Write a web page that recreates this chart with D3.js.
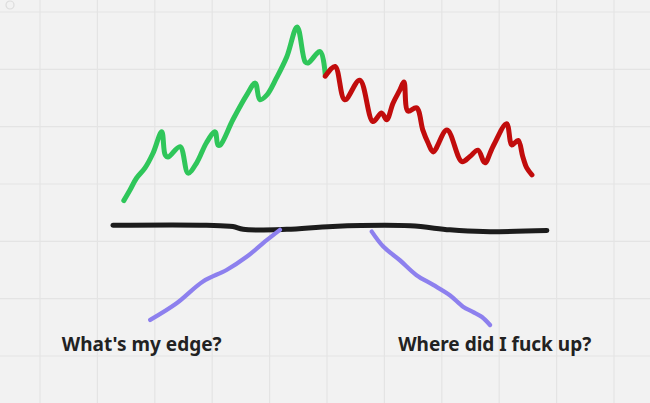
<!DOCTYPE html>
<html><head><meta charset="utf-8">
<script src="https://cdn.jsdelivr.net/npm/d3@7"></script>
<style>html,body{margin:0;padding:0;background:#f2f2f2;overflow:hidden}</style>
</head><body>
<svg id="c" width="650" height="403"></svg>
<script>
// grid units
const gridX = [-1,0,1,2,3,4,5,6,7,8,9,10,11];
const gridY = [-1,0,1,2,3,4,5,6,7];

const greenX = [1.46,1.57,1.68,1.83,1.97,2.12,2.18,2.23,2.44,2.58,2.73,2.90,3.05,3.10,3.14,3.36,3.60,3.75,3.83,3.95,4.12,4.30,4.48,4.62,4.67,4.88,4.97];
const greenY = [2.71,2.90,3.10,3.28,3.54,3.91,3.51,3.47,3.65,3.19,3.37,3.72,3.91,3.68,3.68,4.12,4.55,4.76,4.47,4.55,4.85,5.22,5.74,5.13,5.11,5.31,4.90];

const redX = [4.97,5.14,5.31,5.57,5.80,5.95,6.04,6.15,6.27,6.34,6.41,6.56,6.67,6.76,6.85,7.09,7.35,7.49,7.63,7.75,7.89,8.13,8.22,8.33,8.41,8.48,8.57];
const redY = [4.88,5.05,4.47,4.81,4.09,4.24,4.12,4.41,4.64,4.78,4.27,4.33,3.94,3.72,3.56,3.94,3.39,3.48,3.59,3.37,3.65,4.05,3.68,3.76,3.48,3.28,3.16];

const blackX = [1.27,2.90,3.36,3.54,4.30,5.10,6.45,7.14,7.72,8.83];
const blackY = [2.28,2.28,2.26,2.21,2.21,2.26,2.27,2.20,2.17,2.19];

const purpleLX = [1.92,2.38,2.84,3.25,3.60,3.95,4.18];
const purpleLY = [0.63,0.92,1.30,1.50,1.73,2.02,2.20];

const purpleRX = [5.78,5.98,6.27,6.56,6.85,7.14,7.37,7.54,7.70,7.84];
const purpleRY = [2.17,1.91,1.67,1.41,1.24,1.06,0.86,0.77,0.68,0.54];

const labels = ["What's my edge?", "Where did I fuck up?"];
const labelX = [0.38, 6.24];
const labelY = [0.09, 0.09];

const svg = d3.select("#c");
const x = d3.scaleLinear().domain([0,10]).range([40,614]);
const y = d3.scaleLinear().domain([0,6]).range([356,12]);

svg.append("rect").attr("width",650).attr("height",403).attr("fill","#f2f2f2");

const g = svg.append("g");
g.selectAll("line.vx").data(gridX).join("line")
  .attr("x1",d=>x(d)).attr("x2",d=>x(d)).attr("y1",0).attr("y2",403)
  .attr("stroke","#e4e4e4").attr("stroke-width",1.2);
g.selectAll("line.hy").data(gridY).join("line")
  .attr("y1",d=>y(d)).attr("y2",d=>y(d)).attr("x1",0).attr("x2",650)
  .attr("stroke","#e4e4e4").attr("stroke-width",1.2);

svg.append("circle").attr("cx",10).attr("cy",5).attr("r",4)
  .attr("fill","none").attr("stroke","#dcdcdc").attr("stroke-width",1.2);

const line = d3.line().x(d=>x(d[0])).y(d=>y(d[1])).curve(d3.curveCatmullRom.alpha(0.5));
function draw(xs, ys, color, w){
  svg.append("path").datum(xs.map((v,i)=>[v,ys[i]]))
    .attr("d",line).attr("fill","none").attr("stroke",color)
    .attr("stroke-width",w).attr("stroke-linecap","round").attr("stroke-linejoin","round");
}
draw(blackX, blackY, "#1c1c1c", 5);
draw(purpleLX, purpleLY, "#8d80ee", 4.3);
draw(purpleRX, purpleRY, "#8d80ee", 4.3);
draw(greenX, greenY, "#2fc65a", 5);
draw(redX, redY, "#c10c0c", 5);

svg.selectAll("text.lbl").data(labels).join("text")
  .attr("x",(d,i)=>x(labelX[i])).attr("y",(d,i)=>y(labelY[i]))
  .attr("font-family","'Noto Sans', 'Open Sans', sans-serif")
  .attr("font-weight","bold").attr("font-size",19)
  .attr("fill","#222").text(d=>d);
</script>
</body></html>
